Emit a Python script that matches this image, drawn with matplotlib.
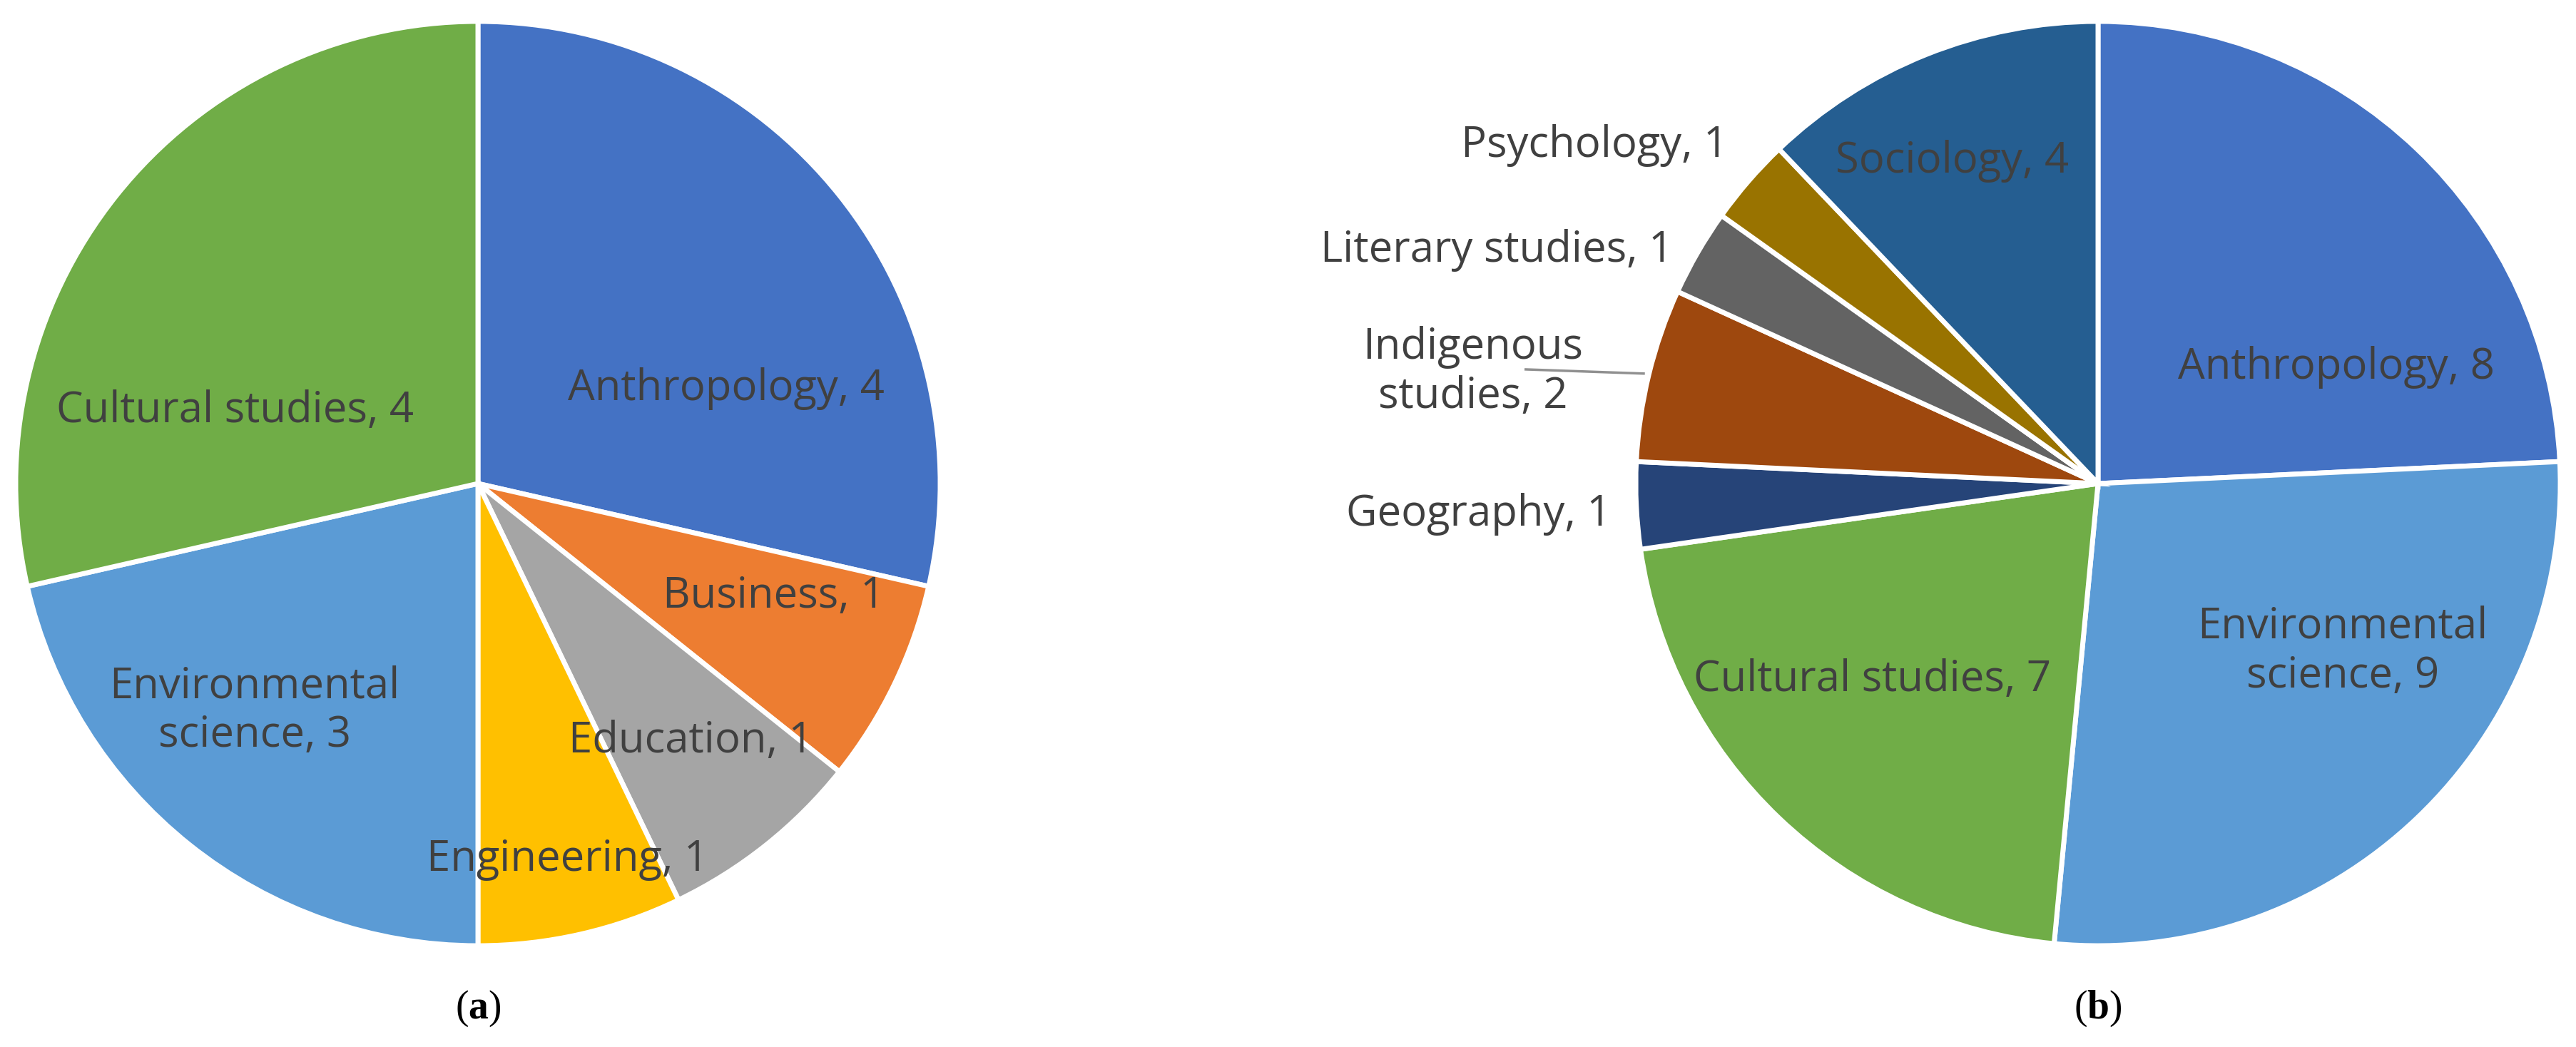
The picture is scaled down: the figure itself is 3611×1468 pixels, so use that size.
import matplotlib
matplotlib.use("Agg")
import matplotlib.pyplot as plt

cats_a = ["Anthropology", "Business", "Education", "Engineering", "Environmental\nscience", "Cultural studies"]
vals_a = [4, 1, 1, 1, 3, 4]
cols_a = ["#4472C4", "#ED7D31", "#A5A5A5", "#FFC000", "#5B9BD5", "#70AD47"]
pos_a = [(0.537, 0.205), (0.640, -0.244), (0.461, -0.557), (0.193, -0.813), (-0.483, -0.492), (-0.526, 0.157)]

cats_b = ["Anthropology", "Environmental\nscience", "Cultural studies", "Geography", "Indigenous\nstudies",
          "Literary studies", "Psychology", "Sociology"]
vals_b = [8, 9, 7, 1, 2, 1, 1, 4]
cols_b = ["#4472C4", "#5B9BD5", "#70AD47", "#264478", "#9E480E", "#636363", "#997300", "#255E91"]
pos_b = [(0.515, 0.252), (0.529, -0.363), (-0.488, -0.424), (-1.340, -0.066), (-1.352, 0.241),
         (-1.301, 0.505), (-1.089, 0.731), (-0.315, 0.698)]

W, H = 3612, 1468
fig = plt.figure(figsize=(W / 100, H / 100), dpi=100)
fs = 43
tc = "#404040"
R = 648

def draw(cx, cy, vals, cols, cats, pos):
    ax = fig.add_axes([(cx - R) / W, 1 - (cy + R) / H, 2 * R / W, 2 * R / H])
    ax.pie(vals, colors=cols, startangle=90, counterclock=False,
           wedgeprops=dict(edgecolor="white", linewidth=5))
    ax.set_xlim(-1, 1); ax.set_ylim(-1, 1)
    ax.axis("off")
    for c, v, (x, y) in zip(cats, vals, pos):
        ax.text(x, y, f"{c}, {v}", ha="center", va="center", fontsize=fs,
                color=tc, family="Open Sans", linespacing=1.2, clip_on=False)
    return ax

axa = draw(670, 678, vals_a, cols_a, cats_a, pos_a)
axb = draw(2941, 678, vals_b, cols_b, cats_b, pos_b)
axb.plot([-1.238, -0.983], [0.247, 0.238], color="#909090", lw=2.5, clip_on=False)

plt.rcParams["mathtext.fontset"] = "custom"
plt.rcParams["mathtext.bf"] = "Liberation Serif:bold"
plt.rcParams["mathtext.rm"] = "Liberation Serif"
for x, l in [(670, "a"), (2941, "b")]:
    fig.text(x / W, 1 - 1414 / H, "(" + r"$\mathbf{" + l + "}$" + ")", ha="center", va="center",
             fontsize=40, family="Liberation Serif")

fig.savefig("out.png", dpi=100, facecolor="white")
